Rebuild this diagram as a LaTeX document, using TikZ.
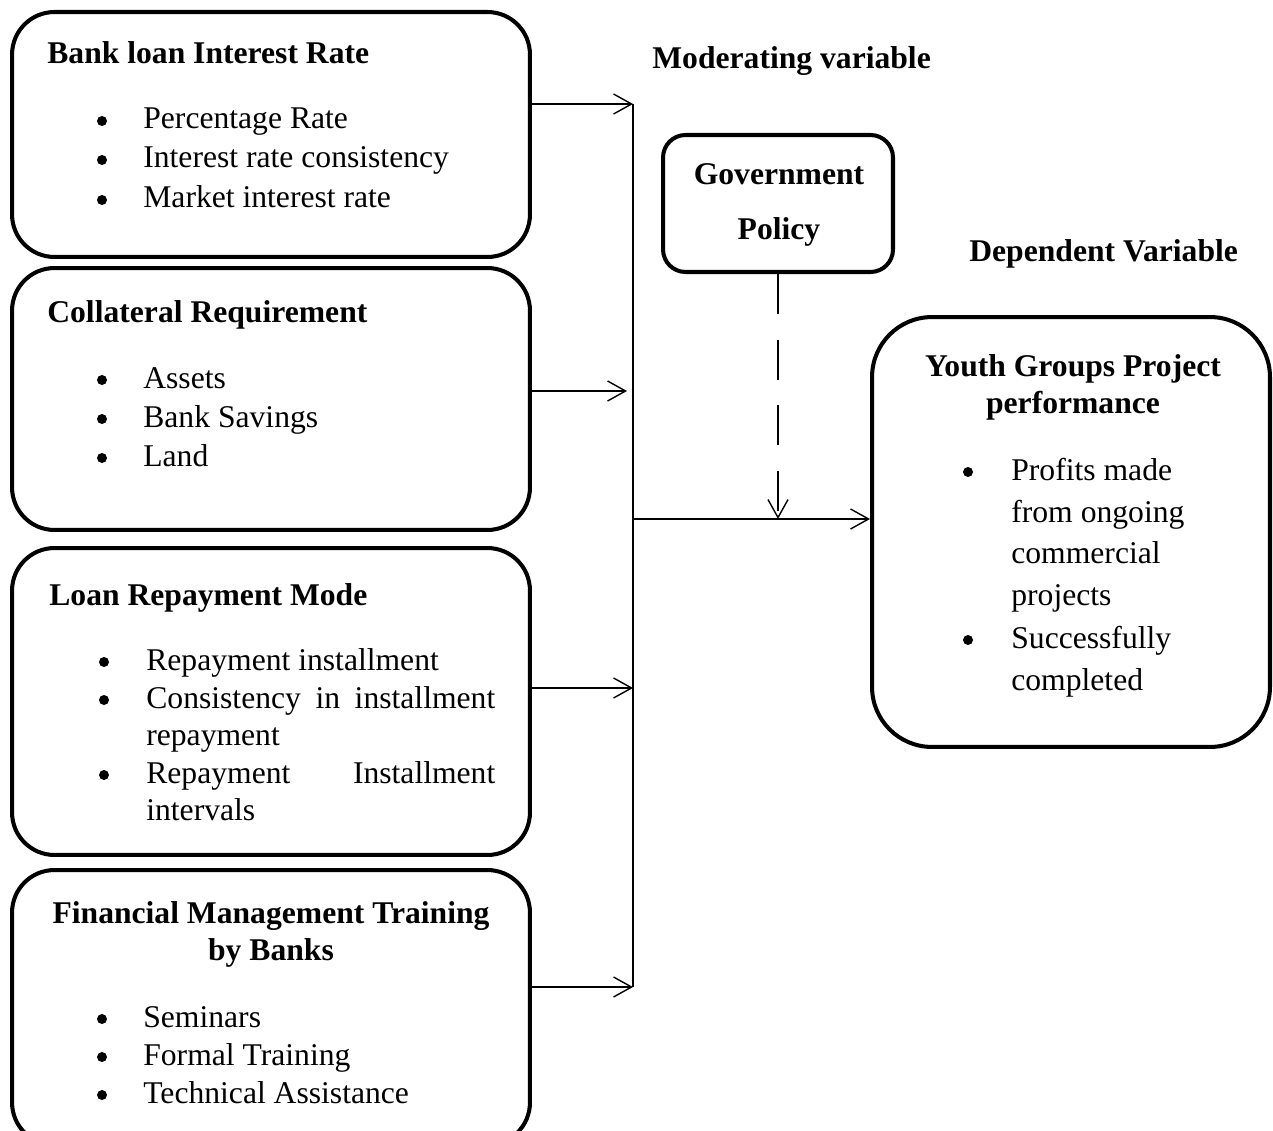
\documentclass[tikz,border=0pt]{standalone}
\usepackage{fontspec}
\setmainfont{Liberation Serif}
\usetikzlibrary{arrows.meta}
\tikzstyle{frame} = [draw=black, line width=2.3pt, rounded corners=0.85cm, inner sep=0pt, minimum width=10.36cm]
\tikzstyle{head} = [font={\fontsize{18}{21}\selectfont\bfseries}, anchor=base west, inner sep=0pt]
\tikzstyle{item} = [font={\fontsize{18}{21}\selectfont}, anchor=base west, inner sep=0pt]
\tikzstyle{bul} = [circle, fill=black, inner sep=0pt, minimum size=0.2cm]
\tikzstyle{link} = [line width=0.8pt]

\begin{document}
\begin{tikzpicture}[x=0.02cm, y=-0.02cm, >={Straight Barb[length=0.36cm,width=0.4cm]}]
    \useasboundingbox (0,0) rectangle (1273,1131);
    \clip (0,0) rectangle (1273,1131);
    % boxes
    \node[frame, minimum height=4.9cm](rate) at (271,134.5){};
    \node[frame, minimum height=5.24cm](coll) at (271,399){};
    \node[frame, minimum height=6.14cm](repay) at (271,701.5){};
    \node[frame, minimum height=5.5cm](train) at (271,1007.5){};
    \node[frame, rounded corners=0.45cm, minimum width=4.6cm, minimum height=2.74cm](gov) at (778,203.5){};
    \node[frame, rounded corners=1.2cm, minimum width=7.96cm, minimum height=8.6cm](perf) at (1071,532){};
    % headings
    \node[head](mod) at (652,69){Moderating variable};
    \node[head](dep) at (969,262){Dependent Variable};
    % bank loan interest rate
    \node[head](rateT) at (47,64){Bank loan Interest Rate};
    \foreach \y/\t in {129/Percentage Rate, 168/Interest rate consistency, 208/Market interest rate}{
        \node[bul](rateB\y) at (102,\y-8){};
        \node[item](rateI\y) at (143,\y){\t};
    }
    % collateral
    \node[head](collT) at (47,323){Collateral Requirement};
    \foreach \y/\t in {388/Assets, 427/Bank Savings, 466/Land}{
        \node[bul](collB\y) at (102,\y-8){};
        \node[item](collI\y) at (143,\y){\t};
    }
    % repayment
    \node[head](repayT) at (49,605){Loan Repayment Mode};
    \foreach \y in {670,708,783}{
        \node[bul](repayB\y) at (104,\y-8){};
    }
    \node[item](repayI1) at (146,670){Repayment installment};
    \node[item](repayI2) at (146,708){\hbox to 6.98cm{Consistency\hfill in\hfill installment}};
    \node[item](repayI3) at (146,745){repayment};
    \node[item](repayI4) at (146,783){\hbox to 6.98cm{Repayment\hfill Installment}};
    \node[item](repayI5) at (146,820){intervals};
    % training
    \node[head, anchor=base](trainT1) at (271,923){Financial Management Training};
    \node[head, anchor=base](trainT2) at (271,960){by Banks};
    \foreach \y/\t in {1027/Seminars, 1065/Formal Training, 1103/Technical Assistance}{
        \node[bul](trainB\y) at (102,\y-8){};
        \node[item](trainI\y) at (143,\y){\t};
    }
    % government policy
    \node[head, anchor=base](govT1) at (779,185){Government};
    \node[head, anchor=base](govT2) at (779,240){Policy};
    % performance
    \node[head, anchor=base](perfT1) at (1073,377){Youth Groups Project};
    \node[head, anchor=base](perfT2) at (1073,413){performance};
    \node[bul](perfB1) at (968,472){};
    \node[bul](perfB2) at (968,640){};
    \foreach \y/\t in {480/Profits made, 522/from ongoing, 563/commercial, 605/projects, 648/Successfully, 690/completed}{
        \node[item](perfI\y) at (1011,\y){\t};
    }
    % connectors
    \coordinate (top) at (633,104);
    \coordinate (c2) at (627,391);
    \coordinate (c3) at (633,688);
    \coordinate (bot) at (633,987);
    \coordinate (mid) at (633,519);
    \draw[link](top)--(bot);
    \draw[link,->](rate.east |- top)--(top);
    \draw[link,->](coll.east |- c2)--(c2);
    \draw[link,->](repay.east |- c3)--(c3);
    \draw[link,->](train.east |- bot)--(bot);
    \draw[link,->](mid)--(mid -| perf.west);
    \draw[link,->,dash pattern=on 22.7pt off 14.7pt](gov.south)--(gov.south |- mid);
\end{tikzpicture}
\end{document}
